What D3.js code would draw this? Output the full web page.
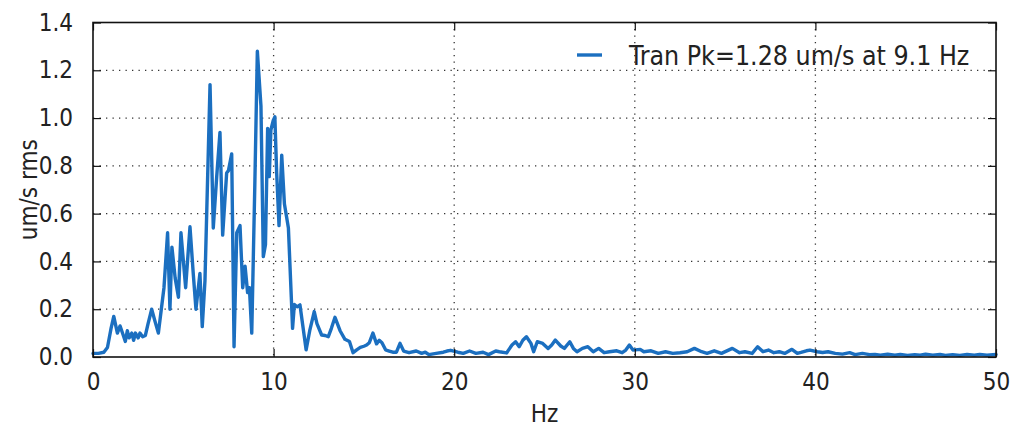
<!DOCTYPE html>
<html>
<head>
<meta charset="utf-8">
<script src="https://cdn.jsdelivr.net/npm/d3@7"></script>
<style>
  html, body { margin: 0; padding: 0; background: #fff; }
  svg { display: block; }
  text { font-family: "DejaVu Sans Condensed", "DejaVu Sans", sans-serif; font-stretch: condensed; fill: #222; }
</style>
</head>
<body>
<svg id="chart" width="1014" height="430"></svg>
<script>
// Transverse velocity spectrum, frequency (Hz) vs. amplitude (um/s rms)
const freqHz = [
  0.0, 0.3, 0.6, 0.8, 1.0, 1.15, 1.35, 1.5, 1.68, 1.79, 1.9, 2.0, 2.15, 2.25, 2.35, 2.5, 2.6, 2.75, 2.9, 3.05,
  3.25, 3.43, 3.62, 3.75, 3.93, 4.13, 4.26, 4.37, 4.55, 4.73, 4.87, 5.13, 5.37, 5.55, 5.7, 5.92, 6.05, 6.2, 6.48, 6.66,
  6.85, 7.03, 7.18, 7.4, 7.5, 7.68, 7.81, 7.96, 8.14, 8.29, 8.42, 8.56, 8.66, 8.79, 8.96, 9.1, 9.3, 9.43, 9.55, 9.67,
  9.76, 9.85, 9.98, 10.07, 10.17, 10.3, 10.45, 10.6, 10.82, 10.98, 11.05, 11.15, 11.3, 11.46, 11.8, 12.0, 12.25, 12.4, 12.66, 12.85,
  13.03, 13.2, 13.4, 13.68, 13.95, 14.2, 14.4, 14.6, 14.8, 15.0, 15.15, 15.3, 15.5, 15.7, 15.85, 16.0, 16.2, 16.4, 16.6, 16.8,
  17.0, 17.2, 17.5, 17.9, 18.2, 18.4, 18.6, 19.0, 19.4, 19.6, 19.8, 20.2, 20.5, 20.85, 21.2, 21.6, 21.9, 22.3, 22.5, 22.9,
  23.2, 23.4, 23.6, 23.8, 24.0, 24.25, 24.4, 24.6, 24.9, 25.2, 25.4, 25.6, 25.9, 26.1, 26.4, 26.6, 26.8, 27.1, 27.4, 27.7,
  28.0, 28.3, 28.6, 29.0, 29.3, 29.5, 29.7, 29.9, 30.3, 30.5, 30.9, 31.3, 31.7, 32.1, 32.5, 32.9, 33.3, 33.7, 34.0, 34.4,
  34.8, 35.4, 35.8, 36.1, 36.5, 36.8, 37.1, 37.4, 37.7, 38.0, 38.3, 38.7, 39.0, 39.2, 39.5, 39.7, 40.1, 40.4, 40.7, 41.1,
  41.5, 41.9, 42.2, 42.6, 43.0, 43.3, 43.6, 44.0, 44.4, 44.7, 45.1, 45.5, 45.8, 46.1, 46.5, 46.9, 47.2, 47.6, 48.0, 48.4,
  48.8, 49.1, 49.5, 50.0
];
const velRms = [
  0.015, 0.015, 0.02, 0.04, 0.12, 0.17, 0.10, 0.13, 0.09, 0.065, 0.11, 0.08, 0.10, 0.07, 0.10, 0.08, 0.10, 0.085, 0.09, 0.14,
  0.20, 0.15, 0.10, 0.18, 0.29, 0.52, 0.20, 0.46, 0.33, 0.25, 0.52, 0.29, 0.545, 0.35, 0.20, 0.35, 0.127, 0.32, 1.14, 0.54,
  0.755, 0.94, 0.51, 0.77, 0.78, 0.85, 0.043, 0.52, 0.55, 0.29, 0.38, 0.27, 0.29, 0.10, 0.72, 1.28, 1.05, 0.42, 0.47, 0.957,
  0.755, 0.95, 0.99, 1.005, 0.77, 0.55, 0.845, 0.64, 0.54, 0.25, 0.12, 0.22, 0.21, 0.218, 0.03, 0.11, 0.19, 0.14, 0.092, 0.09,
  0.085, 0.12, 0.166, 0.11, 0.074, 0.065, 0.018, 0.03, 0.04, 0.045, 0.05, 0.06, 0.10, 0.055, 0.07, 0.06, 0.03, 0.025, 0.02, 0.02,
  0.057, 0.025, 0.018, 0.025, 0.015, 0.02, 0.01, 0.015, 0.02, 0.025, 0.028, 0.02, 0.015, 0.025, 0.015, 0.02, 0.01, 0.025, 0.022, 0.017,
  0.05, 0.064, 0.043, 0.07, 0.085, 0.057, 0.022, 0.064, 0.057, 0.036, 0.05, 0.071, 0.046, 0.036, 0.064, 0.036, 0.022, 0.036, 0.043, 0.022,
  0.036, 0.018, 0.022, 0.026, 0.018, 0.029, 0.05, 0.029, 0.032, 0.022, 0.026, 0.015, 0.022, 0.015, 0.018, 0.022, 0.036, 0.022, 0.015, 0.026,
  0.015, 0.036, 0.018, 0.022, 0.015, 0.043, 0.022, 0.029, 0.018, 0.022, 0.015, 0.032, 0.015, 0.019, 0.026, 0.029, 0.022, 0.019, 0.022, 0.015,
  0.012, 0.018, 0.01, 0.015, 0.01, 0.011, 0.008, 0.012, 0.008, 0.011, 0.007, 0.01, 0.008, 0.012, 0.008, 0.011, 0.007, 0.01, 0.007, 0.011,
  0.008, 0.011, 0.008, 0.011
];
const xTicks = [0, 10, 20, 30, 40, 50];
const yTicks = [0.0, 0.2, 0.4, 0.6, 0.8, 1.0, 1.2, 1.4];
const seriesLabel = "Tran Pk=1.28 um/s at 9.1 Hz";
const xLabel = "Hz";
const yLabel = "um/s rms";

const W = 1014, H = 430;
const margin = { left: 93, right: 18, top: 22.5, bottom: 73 };
const iw = W - margin.left - margin.right;
const ih = H - margin.top - margin.bottom;
const lineColor = "#1b6fc0";
const fontStack = "DejaVu Sans Condensed, DejaVu Sans, sans-serif";

const svg = d3.select("#chart");
const g = svg.append("g").attr("transform", `translate(${margin.left},${margin.top})`);

const x = d3.scaleLinear().domain([0, 50]).range([0, iw]);
const y = d3.scaleLinear().domain([0, 1.4]).range([ih, 0]);

// dotted grid
const grid = g.append("g").attr("class", "grid")
  .attr("stroke", "#333").attr("stroke-width", 1.3).attr("stroke-dasharray", "1.3,5.2");
grid.selectAll("line.gx").data(xTicks.slice(1, -1)).join("line")
  .attr("x1", d => x(d)).attr("x2", d => x(d)).attr("y1", 0).attr("y2", ih);
grid.selectAll("line.gy").data(yTicks.slice(1, -1)).join("line")
  .attr("x1", 0).attr("x2", iw).attr("y1", d => y(d)).attr("y2", d => y(d));

// spectrum line
const pts = freqHz.map((f, i) => [f, velRms[i]]);
const line = d3.line().x(d => x(d[0])).y(d => y(d[1]));
g.append("path").datum(pts)
  .attr("d", line)
  .attr("fill", "none")
  .attr("stroke", lineColor)
  .attr("stroke-width", 3.4)
  .attr("stroke-linejoin", "round")
  .attr("stroke-linecap", "round");

// axes with inward ticks
const tickLen = 8;
const fontSize = 24;
const axB = g.append("g").attr("transform", `translate(0,${ih})`)
  .call(d3.axisBottom(x).tickValues(xTicks).tickFormat(d3.format("d")).tickSize(-tickLen).tickPadding(tickLen + 8));
const axT = g.append("g")
  .call(d3.axisTop(x).tickValues(xTicks).tickFormat("").tickSize(-tickLen));
const axL = g.append("g")
  .call(d3.axisLeft(y).tickValues(yTicks).tickFormat(d3.format(".1f")).tickSize(-tickLen).tickPadding(tickLen + 12));
const axR = g.append("g").attr("transform", `translate(${iw},0)`)
  .call(d3.axisRight(y).tickValues(yTicks).tickFormat("").tickSize(-tickLen));

[axB, axT, axL, axR].forEach(a => {
  a.select(".domain").remove();
  a.selectAll(".tick line").attr("stroke", "#111").attr("stroke-width", 1.2);
  a.selectAll("text").attr("font-size", fontSize).attr("fill", "#222")
    .attr("font-family", fontStack);
});

// frame
g.append("rect").attr("x", 0).attr("y", 0).attr("width", iw).attr("height", ih)
  .attr("fill", "none").attr("stroke", "#111").attr("stroke-width", 1.6);

// axis labels
svg.append("text").attr("x", margin.left + iw / 2).attr("y", 422)
  .attr("text-anchor", "middle").attr("font-size", fontSize).text(xLabel);
svg.append("text").attr("transform", `translate(37,${margin.top + ih / 2}) rotate(-90)`)
  .attr("text-anchor", "middle").attr("font-size", fontSize).text(yLabel);

// legend
const lg = svg.append("g");
lg.append("line").attr("x1", 577).attr("x2", 602).attr("y1", 55).attr("y2", 55)
  .attr("stroke", lineColor).attr("stroke-width", 3.4);
lg.append("text").attr("x", 629).attr("y", 65).attr("font-size", 26.5).text(seriesLabel);
</script>
</body>
</html>
